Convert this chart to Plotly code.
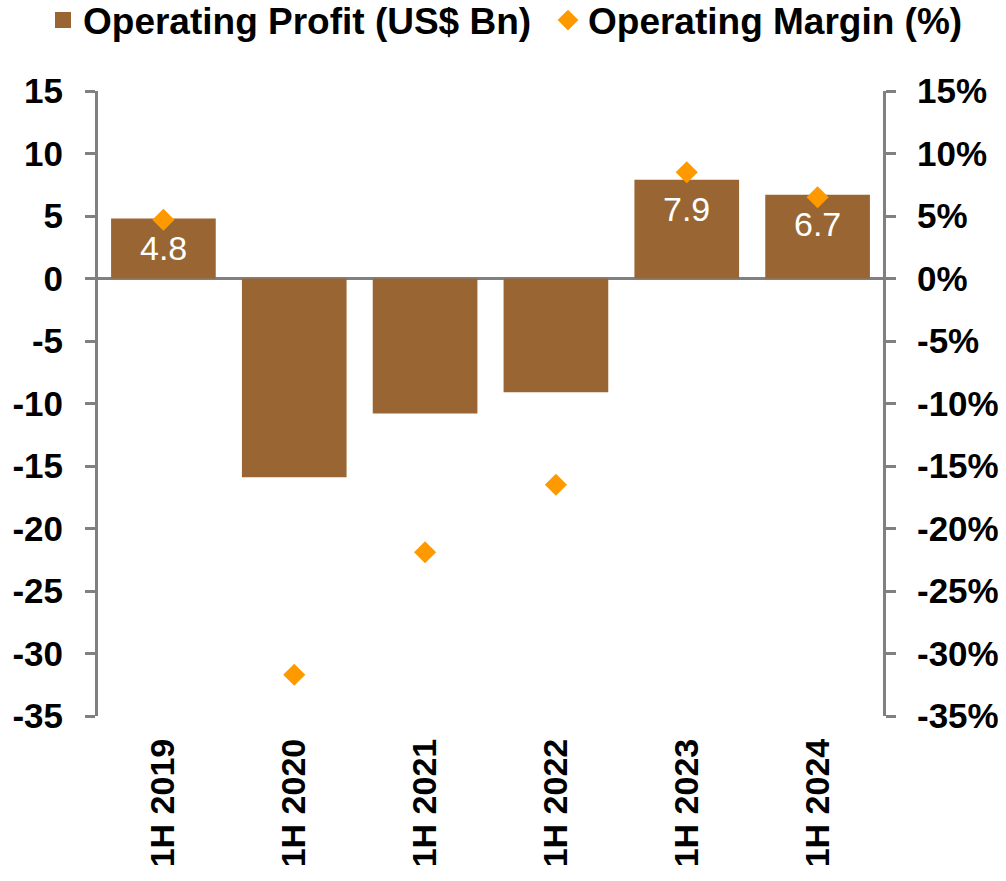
import plotly.graph_objects as go

categories = ["1H 2019", "1H 2020", "1H 2021", "1H 2022", "1H 2023", "1H 2024"]
operating_profit = [4.8, -15.9, -10.8, -9.1, 7.9, 6.7]
operating_margin = [4.7, -31.7, -21.9, -16.5, 8.5, 6.5]  # percent
profit_label_values = [4.8, None, None, None, 7.9, 6.7]

left_tick_values = [-35, -30, -25, -20, -15, -10, -5, 0, 5, 10, 15]
left_tick_text = ["-35", "-30", "-25", "-20", "-15", "-10", "-5", "0", "5", "10", "15"]
right_tick_values = [-35, -30, -25, -20, -15, -10, -5, 0, 5, 10, 15]
right_tick_text = ["-35%", "-30%", "-25%", "-20%", "-15%", "-10%", "-5%", "0%", "5%", "10%", "15%"]

BROWN = "#996633"
ORANGE = "#FF9900"
GRAY = "#808080"
FONT = "Liberation Sans"

fig = go.Figure()
fig.add_trace(go.Bar(
    x=categories, y=operating_profit, name="Operating Profit (US$ Bn)",
    marker=dict(color=BROWN, line=dict(width=0)),
    showlegend=False,
))
# legend entry for the bars (square swatch)
fig.add_trace(go.Scatter(
    x=[None], y=[None], mode="markers", name="Operating Profit (US$ Bn)",
    marker=dict(symbol="square", size=18, color=BROWN), legend="legend",
))
fig.add_trace(go.Scatter(
    x=categories, y=operating_margin, name="Operating Margin (%)",
    mode="markers", yaxis="y2", legend="legend2",
    marker=dict(symbol="diamond", size=17, color=ORANGE),
))

for cat, v in zip(categories, profit_label_values):
    if v is None:
        continue
    fig.add_annotation(
        x=cat, y=v, xref="x", yref="y", text=f"{v:.1f}", showarrow=False,
        yanchor="middle", yshift=-29,
        font=dict(family=FONT, size=34, color="white"),
    )

tickfont = dict(family=FONT, size=35, color="black", weight="bold")
xtickfont = dict(family=FONT, size=34, color="black", weight="bold")
legfont = dict(family=FONT, size=37, color="black", weight="bold")
fig.update_layout(
    width=1006, height=881,
    margin=dict(l=98, r=123, t=91, b=165),
    paper_bgcolor="white", plot_bgcolor="white",
    bargap=0.2,
    showlegend=True,
    legend=dict(orientation="h", xref="container", yref="container",
                x=43 / 1006, y=1 - 20.5 / 881, xanchor="left", yanchor="middle",
                font=legfont, itemwidth=30, itemsizing="trace",
                bgcolor="rgba(0,0,0,0)"),
    legend2=dict(orientation="h", xref="container", yref="container",
                 x=548 / 1006, y=1 - 20.5 / 881, xanchor="left", yanchor="middle",
                 font=legfont, itemwidth=30, itemsizing="trace",
                 bgcolor="rgba(0,0,0,0)"),
    xaxis=dict(type="category", tickangle=-90, tickfont=xtickfont, automargin=False,
               showline=False, showgrid=False, ticks="", ticklabelstandoff=15),
    yaxis=dict(range=[-35, 15], tickvals=left_tick_values, ticktext=left_tick_text,
               tickfont=tickfont, automargin=False,
               showgrid=False, showline=True, linecolor=GRAY, linewidth=3,
               ticks="outside", ticklen=10, tickwidth=3, tickcolor=GRAY,
               zeroline=True, zerolinecolor=GRAY, zerolinewidth=3,
               ticklabelstandoff=15),
    yaxis2=dict(range=[-35, 15], tickvals=right_tick_values, ticktext=right_tick_text,
                overlaying="y", side="right", tickfont=tickfont, automargin=False,
                showgrid=False, showline=True, linecolor=GRAY, linewidth=3,
                ticks="outside", ticklen=10, tickwidth=3, tickcolor=GRAY,
                zeroline=False, ticklabelstandoff=14),
)

fig.write_html("out.html", config={"displayModeBar": False},
               post_script="document.body.style.margin='0';")
